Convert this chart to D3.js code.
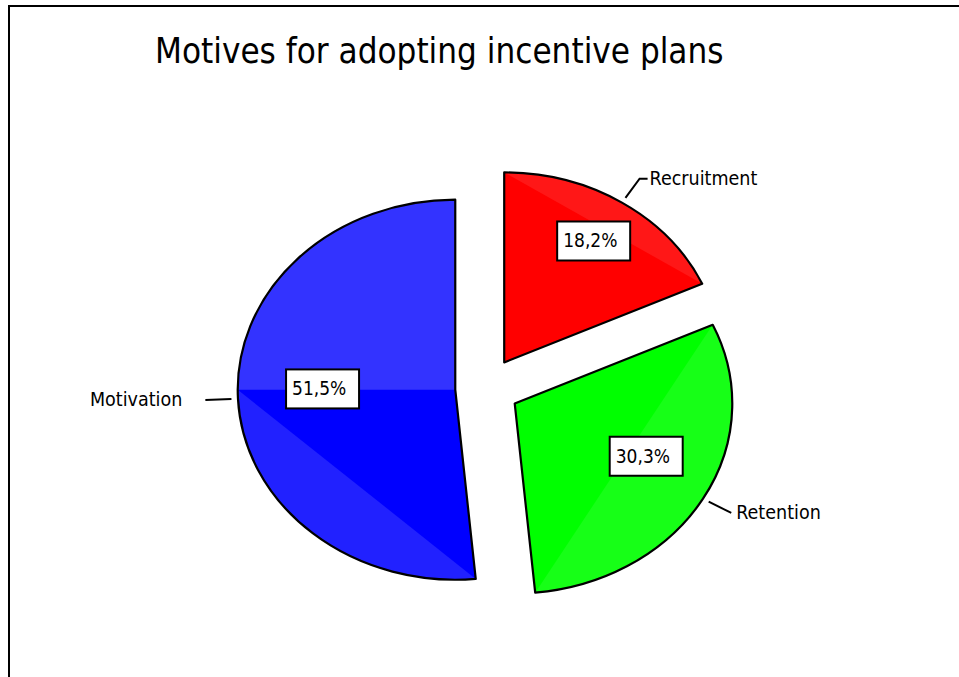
<!DOCTYPE html>
<html>
<head>
<meta charset="utf-8">
<script src="https://cdn.jsdelivr.net/npm/d3@7"></script>
<style>
  html, body { margin: 0; padding: 0; background: #fff; }
  svg { display: block; }
  text { font-family: "DejaVu Sans Condensed", "Liberation Sans Narrow", "DejaVu Sans", sans-serif; font-stretch: condensed; fill: #000; }
</style>
</head>
<body>
<svg id="chart" width="959" height="677"></svg>
<script>
// Chart data
const title = "Motives for adopting incentive plans";
const categories = ["Recruitment", "Retention", "Motivation"];
const shares = [18.2, 30.3, 51.5];
const valueLabels = ["18,2%", "30,3%", "51,5%"];
const colors = ["#ff0000", "#00ff00", "#0000ff"];

// Layout
const W = 959, H = 677;
const cx = 485, cy = 388.5;      // pie centre
const R = 190;                   // vertical radius
const kx = 1.145;                // horizontal stretch of the pie
const explode = [31, 30, 26];    // slice offsets along their mid angle
const boxRadius = [0.76, 0.665, 0.61];
const boxAngleShift = [0, -5.4, 3.1];   // degrees
const tail = [8, 0, 0];
const textGap = [2, 5, 23];

const svg = d3.select("#chart");

// Frame
svg.append("path")
  .attr("d", `M9,${H} V6 H${W}`)
  .attr("fill", "none")
  .attr("stroke", "#000")
  .attr("stroke-width", 2);

// Title
svg.append("text")
  .attr("x", 155)
  .attr("y", 63)
  .attr("font-size", 34.7)
  .text(title);

const pie = d3.pie().sort(null).value(d => d).startAngle(0).endAngle(2 * Math.PI);
const arcs = pie(shares);
const arc = d3.arc().innerRadius(0).outerRadius(R);

// Screen position of a polar point (angle from 12 o'clock, clockwise) on the stretched pie
function toScreen(ox, oy, angle, r) {
  return [ox + kx * r * Math.sin(angle), oy - r * Math.cos(angle)];
}

arcs.forEach((a, i) => {
  const mid = (a.startAngle + a.endAngle) / 2;
  const [ox, oy] = toScreen(cx, cy, mid, explode[i]);

  const g = svg.append("g")
    .attr("transform", `translate(${ox},${oy}) scale(${kx},1)`);

  g.append("path")
    .attr("d", arc(a))
    .attr("fill", colors[i]);

  // lighter sheen between the rim and the chord of each slice
  const segs = [];
  if (a.endAngle - a.startAngle > Math.PI) {
    segs.push({ s: a.startAngle, e: 1.5 * Math.PI, sector: false, op: 0.13 });
    segs.push({ s: 1.5 * Math.PI, e: a.endAngle, sector: true, op: 0.2 });
  } else {
    segs.push({ s: a.startAngle, e: a.endAngle, sector: false, op: 0.09 });
  }
  segs.forEach(sg => {
    const p = d3.path();
    const p0 = [R * Math.sin(sg.s), -R * Math.cos(sg.s)];
    if (sg.sector) { p.moveTo(0, 0); p.lineTo(p0[0], p0[1]); }
    else p.moveTo(p0[0], p0[1]);
    p.arc(0, 0, R, sg.s - Math.PI / 2, sg.e - Math.PI / 2, false);
    p.closePath();
    g.append("path")
      .attr("d", p.toString())
      .attr("fill", "#fff")
      .attr("opacity", sg.op);
  });

  g.append("path")
    .attr("d", arc(a))
    .attr("fill", "none")
    .attr("stroke", "#000")
    .attr("stroke-width", 2.2)
    .attr("stroke-linejoin", "round")
    .attr("vector-effect", "non-scaling-stroke");

  // Value box
  const la = mid + boxAngleShift[i] * Math.PI / 180;
  const [bx, by] = toScreen(ox, oy, la, boxRadius[i] * R);
  const bw = 73, bh = 39;
  svg.append("rect")
    .attr("x", bx - bw / 2)
    .attr("y", by - bh / 2)
    .attr("width", bw)
    .attr("height", bh)
    .attr("fill", "#fff")
    .attr("stroke", "#000")
    .attr("stroke-width", 2);
  svg.append("text")
    .attr("x", bx - bw / 2 + 6)
    .attr("y", by)
    .attr("dy", "0.33em")
    .attr("font-size", 19)
    .text(valueLabels[i]);

  // Category label with leader line
  const [x1, y1] = toScreen(ox, oy, mid, 1.03 * R);
  const [x2, y2] = toScreen(ox, oy, mid, 1.15 * R);
  const right = Math.sin(mid) > 0;
  const x3 = x2 + (right ? tail[i] : -tail[i]);
  svg.append("path")
    .attr("d", d3.line()([[x1, y1], [x2, y2], [x3, y2]]))
    .attr("fill", "none")
    .attr("stroke", "#000")
    .attr("stroke-width", 2);
  svg.append("text")
    .attr("x", right ? x3 + textGap[i] : x3 - textGap[i])
    .attr("y", y2)
    .attr("dy", "0.3em")
    .attr("text-anchor", right ? "start" : "end")
    .attr("font-size", 19.5)
    .text(categories[i]);
});
</script>
</body>
</html>
